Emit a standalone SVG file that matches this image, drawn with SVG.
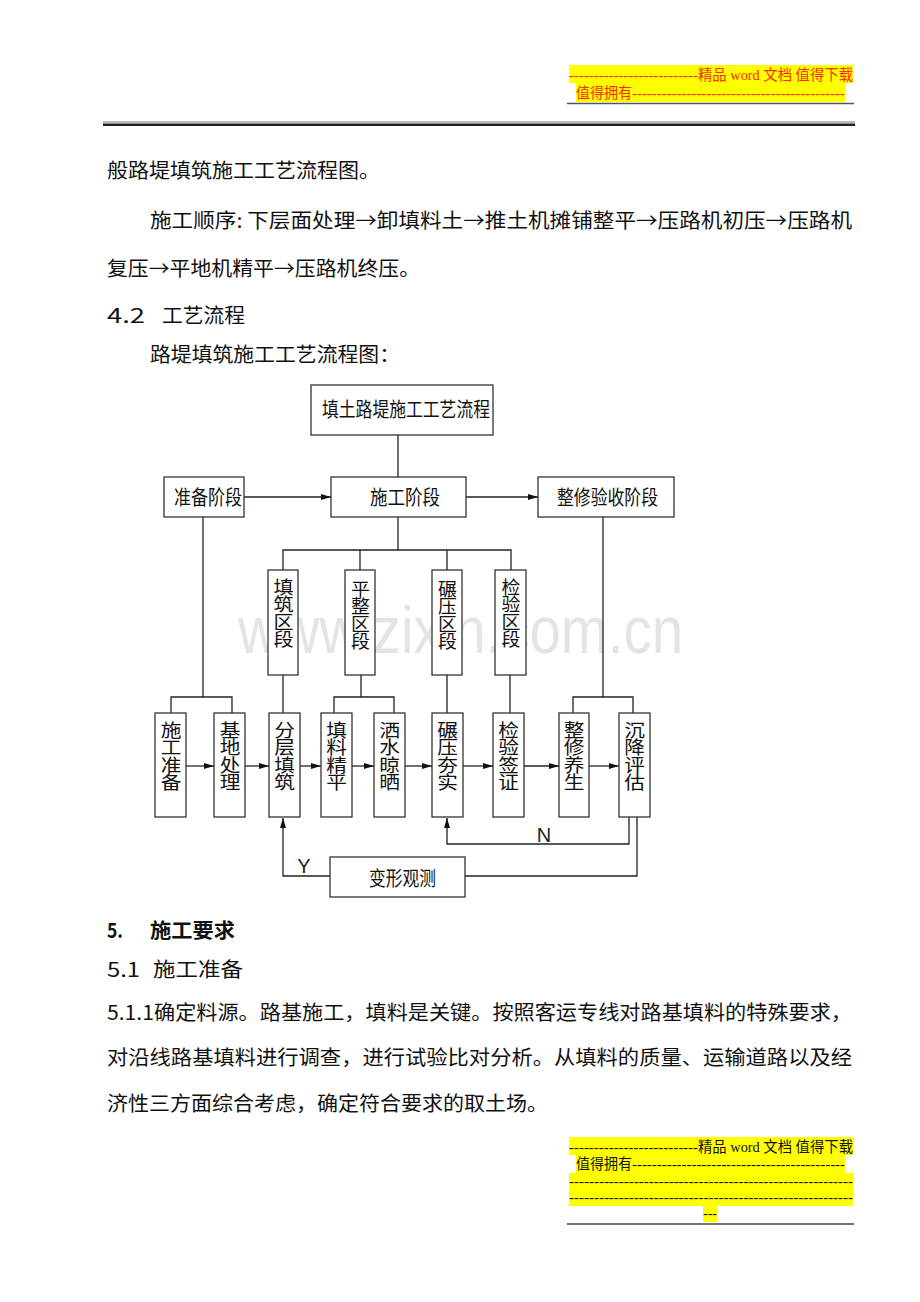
<svg xmlns="http://www.w3.org/2000/svg" width="920" height="1302" viewBox="0 0 920 1302">
<defs>
<marker id="ah" markerUnits="userSpaceOnUse" markerWidth="11" markerHeight="7" refX="10" refY="3" orient="auto">
<path d="M0,0 L10,3 L0,6 z" fill="#111"/>
</marker>
<style>
.body{font-family:"Noto Sans CJK SC","Liberation Serif",sans-serif;font-size:20px;fill:#111;}
.hdr{font-family:"Liberation Serif","Noto Sans CJK SC",serif;font-size:15px;}
.box{fill:#fff;stroke:#333;stroke-width:1.3;}
.bt{font-family:"Noto Sans CJK SC",sans-serif;font-size:20px;fill:#111;}
.vt{font-family:"Noto Sans CJK SC",sans-serif;font-size:18px;fill:#111;writing-mode:vertical-rl;letter-spacing:-0.5px;}
.ln{fill:none;stroke:#222;stroke-width:1.3;}
.lbl{font-family:"Liberation Sans","DejaVu Sans",sans-serif;font-size:20px;fill:#222;}
</style>
</defs>
<rect width="920" height="1302" fill="#fff"/>

<g id="header">
<rect x="569" y="65" width="284" height="18" fill="#ffff00"/>
<rect x="576" y="83" width="269" height="19" fill="#ffff00"/>
<text class="hdr" x="569" y="80" fill="#ff2a00" textLength="129" lengthAdjust="spacingAndGlyphs">--------------------------</text>
<text class="hdr" x="698" y="80" fill="#ff2a00" textLength="155" lengthAdjust="spacingAndGlyphs">精品 word 文档  值得下载</text>
<text class="hdr" x="576" y="98" fill="#ff2a00" textLength="56" lengthAdjust="spacingAndGlyphs">值得拥有</text>
<text class="hdr" x="632" y="98" fill="#ff2a00" textLength="213" lengthAdjust="spacingAndGlyphs">-------------------------------------------</text>
<line x1="567" y1="103.5" x2="854" y2="103.5" stroke="#555" stroke-width="1.5"/>
<line x1="103" y1="122" x2="855" y2="122" stroke="#777" stroke-width="1"/>
<line x1="103" y1="124.8" x2="855" y2="124.8" stroke="#222" stroke-width="2.4"/>
</g>

<g id="text-top">
<text class="body" x="107" y="178" textLength="273" lengthAdjust="spacingAndGlyphs">般路堤填筑施工工艺流程图。</text>
<text class="body" x="150" y="228" textLength="702" lengthAdjust="spacingAndGlyphs">施工顺序: 下层面处理→卸填料土→推土机摊铺整平→压路机初压→压路机</text>
<text class="body" x="107" y="276" textLength="313" lengthAdjust="spacingAndGlyphs">复压→平地机精平→压路机终压。</text>
<text class="body" x="107" y="323" font-family="Liberation Mono, monospace" textLength="38" lengthAdjust="spacingAndGlyphs">4.2</text>
<text class="body" x="162" y="323" textLength="83" lengthAdjust="spacingAndGlyphs">工艺流程</text>
<text class="body" x="150" y="362" textLength="250" lengthAdjust="spacingAndGlyphs">路堤填筑施工工艺流程图：</text>
</g>

<text x="238" y="653" font-family="Liberation Sans, Arial, sans-serif" font-size="66" fill="#e4e4e4" textLength="445" lengthAdjust="spacingAndGlyphs">www.zixin.com.cn</text>

<g id="connectors">
<line class="ln" x1="398" y1="435" x2="398" y2="477"/>
<line class="ln" x1="244" y1="497" x2="331" y2="497" marker-end="url(#ah)"/>
<line class="ln" x1="466" y1="497" x2="538" y2="497" marker-end="url(#ah)"/>
<polyline class="ln" points="398,517 398,550"/>
<polyline class="ln" points="283,570 283,550 511,550 511,570"/>
<line class="ln" x1="360" y1="550" x2="360" y2="570"/>
<line class="ln" x1="447" y1="550" x2="447" y2="570"/>
<line class="ln" x1="203" y1="517" x2="203" y2="697"/>
<polyline class="ln" points="171,713 171,697 232,697 232,713"/>
<line class="ln" x1="603" y1="517" x2="603" y2="697"/>
<polyline class="ln" points="573,713 573,697 633,697 633,713"/>
<line class="ln" x1="283" y1="675" x2="283" y2="713"/>
<line class="ln" x1="361" y1="675" x2="361" y2="697"/>
<polyline class="ln" points="334,713 334,697 394,697 394,713"/>
<line class="ln" x1="447" y1="675" x2="447" y2="713"/>
<line class="ln" x1="510" y1="675" x2="510" y2="713"/>
<line class="ln" x1="186" y1="766" x2="214" y2="766" marker-end="url(#ah)"/>
<line class="ln" x1="245" y1="766" x2="269" y2="766" marker-end="url(#ah)"/>
<line class="ln" x1="300" y1="766" x2="321" y2="766" marker-end="url(#ah)"/>
<line class="ln" x1="352" y1="766" x2="374" y2="766" marker-end="url(#ah)"/>
<line class="ln" x1="405" y1="766" x2="432" y2="766" marker-end="url(#ah)"/>
<line class="ln" x1="463" y1="766" x2="493" y2="766" marker-end="url(#ah)"/>
<line class="ln" x1="524" y1="766" x2="559" y2="766" marker-end="url(#ah)"/>
<line class="ln" x1="589" y1="766" x2="619" y2="766" marker-end="url(#ah)"/>
<polyline class="ln" points="629,817 629,844 447,844 447,818" marker-end="url(#ah)"/>
<polyline class="ln" points="330,876 283,876 283,818" marker-end="url(#ah)"/>
<polyline class="ln" points="465,876 637,876 637,817"/>
<text class="lbl" x="304" y="873" text-anchor="middle">Y</text>
<text class="lbl" x="544" y="842" text-anchor="middle" font-size="19">N</text>
</g>

<g id="n-title"><rect class="box" x="311" y="385" width="182" height="50"/><text class="bt" x="322" y="417" textLength="168" lengthAdjust="spacingAndGlyphs">填土路堤施工工艺流程</text></g>
<g id="n-prep"><rect class="box" x="164" y="477" width="80" height="40"/><text class="bt" x="174" y="505" textLength="68" lengthAdjust="spacingAndGlyphs">准备阶段</text></g>
<g id="n-build"><rect class="box" x="331" y="477" width="135" height="40"/><text class="bt" x="370" y="505" textLength="70" lengthAdjust="spacingAndGlyphs">施工阶段</text></g>
<g id="n-accept"><rect class="box" x="538" y="477" width="136" height="40"/><text class="bt" x="557" y="505" textLength="101" lengthAdjust="spacingAndGlyphs">整修验收阶段</text></g>

<g id="n-zone1"><rect class="box" x="268" y="570" width="30" height="105"/><text class="vt" x="283.5" y="578" transform="translate(283.5,0) scale(1.12,1) translate(-283.5,0)">填筑区段</text></g>
<g id="n-zone2"><rect class="box" x="345" y="570" width="30" height="105"/><text class="vt" x="360.5" y="580" transform="translate(360.5,0) scale(1.05,1) translate(-360.5,0)">平整区段</text></g>
<g id="n-zone3"><rect class="box" x="432" y="570" width="30" height="105"/><text class="vt" x="447.5" y="580" transform="translate(447.5,0) scale(1.05,1) translate(-447.5,0)">碾压区段</text></g>
<g id="n-zone4"><rect class="box" x="495" y="570" width="31" height="105"/><text class="vt" x="511" y="578" transform="translate(511,0) scale(1.05,1) translate(-511,0)">检验区段</text></g>

<g id="n-s1"><rect class="box" x="155" y="713" width="31" height="104"/><text class="vt" x="171" y="721" transform="translate(171,0) scale(1.15,1) translate(-171,0)">施工准备</text></g>
<g id="n-s2"><rect class="box" x="214" y="713" width="31" height="104"/><text class="vt" x="230" y="721" transform="translate(230,0) scale(1.15,1) translate(-230,0)">基地处理</text></g>
<g id="n-s3"><rect class="box" x="269" y="713" width="31" height="104"/><text class="vt" x="284.5" y="721" transform="translate(284.5,0) scale(1.15,1) translate(-284.5,0)">分层填筑</text></g>
<g id="n-s4"><rect class="box" x="321" y="713" width="31" height="104"/><text class="vt" x="336.5" y="721" transform="translate(336.5,0) scale(1.15,1) translate(-336.5,0)">填料精平</text></g>
<g id="n-s5"><rect class="box" x="374" y="713" width="31" height="104"/><text class="vt" x="389.5" y="721" transform="translate(389.5,0) scale(1.15,1) translate(-389.5,0)">洒水晾晒</text></g>
<g id="n-s6"><rect class="box" x="432" y="713" width="31" height="104"/><text class="vt" x="447.5" y="721" transform="translate(447.5,0) scale(1.15,1) translate(-447.5,0)">碾压夯实</text></g>
<g id="n-s7"><rect class="box" x="493" y="713" width="31" height="104"/><text class="vt" x="508.5" y="721" transform="translate(508.5,0) scale(1.15,1) translate(-508.5,0)">检验签证</text></g>
<g id="n-s8"><rect class="box" x="559" y="713" width="30" height="104"/><text class="vt" x="574" y="721" transform="translate(574,0) scale(1.15,1) translate(-574,0)">整修养生</text></g>
<g id="n-s9"><rect class="box" x="619" y="713" width="31" height="104"/><text class="vt" x="634.5" y="721" transform="translate(634.5,0) scale(1.15,1) translate(-634.5,0)">沉降评估</text></g>

<g id="n-deform"><rect class="box" x="330" y="857" width="135" height="40"/><text class="bt" x="369" y="886" textLength="67" lengthAdjust="spacingAndGlyphs">变形观测</text></g>

<g id="text-bottom">
<text class="body" x="107" y="938" font-weight="bold" textLength="16" lengthAdjust="spacingAndGlyphs">5.</text>
<text class="body" x="150" y="938" font-weight="bold" textLength="85" lengthAdjust="spacingAndGlyphs">施工要求</text>
<text class="body" x="107" y="977" font-family="Liberation Mono, monospace" textLength="33" lengthAdjust="spacingAndGlyphs">5.1</text>
<text class="body" x="153" y="977" textLength="90" lengthAdjust="spacingAndGlyphs">施工准备</text>
<text class="body" x="107" y="1020" textLength="745" lengthAdjust="spacingAndGlyphs">5.1.1确定料源。路基施工，填料是关键。按照客运专线对路基填料的特殊要求，</text>
<text class="body" x="107" y="1065" textLength="745" lengthAdjust="spacingAndGlyphs">对沿线路基填料进行调查，进行试验比对分析。从填料的质量、运输道路以及经</text>
<text class="body" x="107" y="1111" textLength="441" lengthAdjust="spacingAndGlyphs">济性三方面综合考虑，确定符合要求的取土场。</text>
</g>

<g id="footer">
<rect x="569" y="1137" width="284" height="18" fill="#ffff00"/>
<rect x="576" y="1155" width="269" height="18" fill="#ffff00"/>
<rect x="569" y="1173" width="284" height="17" fill="#ffff00"/>
<rect x="569" y="1190" width="284" height="16" fill="#ffff00"/>
<rect x="703" y="1206" width="14" height="16" fill="#ffff00"/>
<text class="hdr" x="569" y="1152" fill="#111" textLength="129" lengthAdjust="spacingAndGlyphs">--------------------------</text>
<text class="hdr" x="698" y="1152" fill="#111" textLength="155" lengthAdjust="spacingAndGlyphs">精品 word 文档  值得下载</text>
<text class="hdr" x="576" y="1169" fill="#111" textLength="56" lengthAdjust="spacingAndGlyphs">值得拥有</text>
<text class="hdr" x="632" y="1169" fill="#111" textLength="213" lengthAdjust="spacingAndGlyphs">-------------------------------------------</text>
<text class="hdr" x="569" y="1186" fill="#111" textLength="284" lengthAdjust="spacingAndGlyphs">---------------------------------------------------------</text>
<text class="hdr" x="569" y="1202" fill="#111" textLength="284" lengthAdjust="spacingAndGlyphs">---------------------------------------------------------</text>
<text class="hdr" x="703" y="1218" fill="#111" textLength="14" lengthAdjust="spacingAndGlyphs">---</text>
<line x1="567" y1="1224" x2="854" y2="1224" stroke="#444" stroke-width="1.5"/>
</g>
</svg>
